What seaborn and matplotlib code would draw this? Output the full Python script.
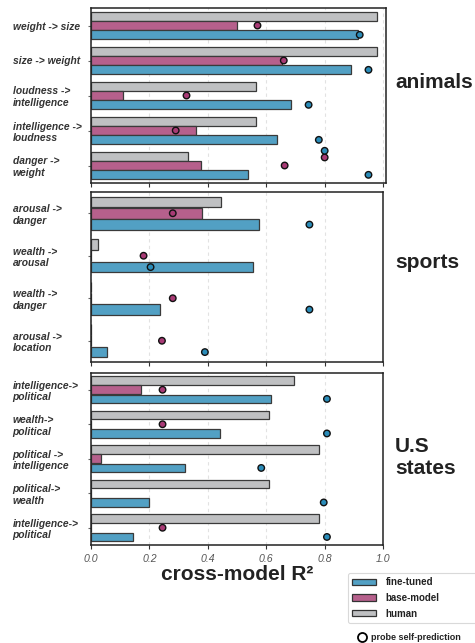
import numpy as np
import pandas as pd
import seaborn as sns
import matplotlib.pyplot as plt
from matplotlib.patches import Patch
from matplotlib.lines import Line2D

# ---- data ----
models = ["human", "base-model", "fine-tuned"]

animals_pairs = ["weight -> size", "size -> weight", "loudness ->\nintelligence",
                 "intelligence ->\nloudness", "danger ->\nweight"]
animals_human = [0.98, 0.98, 0.565, 0.565, 0.333]
animals_base = [0.50, 0.655, 0.108, 0.36, 0.375]
animals_fine = [0.915, 0.89, 0.685, 0.636, 0.536]
animals_base_dot = [0.57, 0.66, 0.327, 0.29, 0.663]
animals_fine_dot = [0.92, 0.95, 0.745, 0.78, 0.95]
# two stray probe points drawn just above the "danger -> weight" group
animals_extra_base_dot = [0.80]
animals_extra_fine_dot = [0.80]

sports_pairs = ["arousal ->\ndanger", "wealth ->\narousal", "wealth ->\ndanger",
                "arousal ->\nlocation"]
sports_human = [0.445, 0.023, 0.0, 0.0]
sports_base = [0.38, 0.0, 0.0, 0.0]
sports_fine = [0.575, 0.554, 0.238, 0.054]
sports_base_dot = [0.28, 0.18, 0.28, 0.243]
sports_fine_dot = [0.748, 0.204, 0.748, 0.39]

states_pairs = ["intelligence->\npolitical", "wealth->\npolitical",
                "political ->\nintelligence", "political->\nwealth",
                "intelligence->\npolitical"]
states_human = [0.695, 0.611, 0.782, 0.611, 0.782]
states_base = [0.172, 0.0, 0.033, 0.0, 0.0]
states_fine = [0.617, 0.442, 0.322, 0.199, 0.145]
states_base_dot = [0.245, 0.245, np.nan, np.nan, 0.245]
states_fine_dot = [0.808, 0.808, 0.583, 0.797, 0.808]

xticks = [0.0, 0.2, 0.4, 0.6, 0.8, 1.0]

bar_colors = {"human": "#bfc0c2", "base-model": "#b6608c", "fine-tuned": "#52a0c4"}
dot_colors = {"base-model": "#a83a75", "fine-tuned": "#2a8cb9"}

sns.set_style("ticks")
plt.rcParams["font.family"] = ["Liberation Sans", "DejaVu Sans"]

W, H = 475, 643
fig = plt.figure(figsize=(W / 100, H / 100), dpi=100)


def px_axes(left, top, right, bottom):
    return fig.add_axes([left / W, 1 - bottom / H, (right - left) / W, (bottom - top) / H])


def panel(ax, pairs, human, base, fine, base_dot, fine_dot, xmax, extra=None):
    n = len(pairs)
    rows = []
    for i in range(n):
        rows.append((i, "human", human[i]))
        rows.append((i, "base-model", base[i]))
        rows.append((i, "fine-tuned", fine[i]))
    bars = pd.DataFrame(rows, columns=["row", "model", "r2"])

    sns.barplot(data=bars, x="r2", y="row", hue="model", hue_order=models,
                palette=bar_colors, saturation=1, orient="h", width=0.8, gap=0.06,
                edgecolor="#3a3a3a", linewidth=0.9, errorbar=None,
                legend=False, ax=ax, zorder=2)

    # probe dots sit on the base-model (middle) and fine-tuned (lower) rows
    step = 0.8 / len(models)
    dots = []
    for i in range(n):
        dots.append(("base-model", base_dot[i], i))
        dots.append(("fine-tuned", fine_dot[i], i + step))
    if extra is not None:
        i = n - 1
        for v in extra[0]:
            dots.append(("base-model", v, i - 0.23))
        for v in extra[1]:
            dots.append(("fine-tuned", v, i - 0.42))
    dots = pd.DataFrame(dots, columns=["model", "r2", "ypos"]).dropna()
    sns.scatterplot(data=dots, x="r2", y="ypos", hue="model", palette=dot_colors,
                    s=22, edgecolor="#111111", linewidth=1.0, legend=False,
                    ax=ax, zorder=4)

    ax.set_ylim(n - 0.5, -0.5)
    ax.set_xlim(0, xmax)
    ax.set_xlabel("")
    ax.set_ylabel("")
    ax.set_yticks(range(n))
    ax.set_yticklabels(pairs, ha="left", fontsize=7.4, fontweight="bold",
                       fontstyle="italic", color="#333333")
    ax.tick_params(axis="y", length=2, pad=54.5, color="#666666")
    ax.set_xticks(xticks)
    ax.tick_params(axis="x", length=3, color="#333333", pad=3.5,
                   labelsize=7.6, labelcolor="#555555")
    ax.xaxis.grid(True, linestyle=(0, (3, 3)), color="#e2e2e2", linewidth=0.8)
    ax.set_axisbelow(True)
    for s in ax.spines.values():
        s.set_color("#222222")
        s.set_linewidth(1.1)


ax1 = px_axes(91, 8, 386, 183)
ax2 = px_axes(91, 192, 383, 362)
ax3 = px_axes(91, 372.5, 383, 545)

panel(ax1, animals_pairs, animals_human, animals_base, animals_fine,
      animals_base_dot, animals_fine_dot, 1.01,
      extra=(animals_extra_base_dot, animals_extra_fine_dot))
panel(ax2, sports_pairs, sports_human, sports_base, sports_fine,
      sports_base_dot, sports_fine_dot, 1.0)
panel(ax3, states_pairs, states_human, states_base, states_fine,
      states_base_dot, states_fine_dot, 1.0)

ax1.set_xticklabels([])
ax2.set_xticklabels([])
ax3.set_xticklabels([f"{t:.1f}" for t in xticks], fontstyle="italic")
ax3.set_xlabel("cross-model R²", fontsize=15, fontweight="bold", labelpad=1,
               color="#222222")

# group labels on the right
for txt, yc in [("animals", 83), ("sports", 262), ("U.S\nstates", 457)]:
    fig.text(395 / W, 1 - yc / H, txt, fontsize=15, fontweight="bold",
             color="#222222", ha="left", va="center")

# legend
handles = [Patch(facecolor=bar_colors[m], edgecolor="#333333", linewidth=0.9, label=m)
           for m in ["fine-tuned", "base-model", "human"]]
top = 1 - 573 / H
leg = fig.legend(handles=handles, loc="upper left",
                 bbox_to_anchor=(348 / W, 0.05, 140 / W, top - 0.05),
                 mode="expand", borderaxespad=0, borderpad=0.42,
                 prop=dict(weight="bold", size=7), handlelength=2.5,
                 handleheight=0.62, handletextpad=0.93, labelspacing=0.6,
                 frameon=True, edgecolor="#d0d0d0", fancybox=True)
leg.get_frame().set_linewidth(0.8)
for t in leg.get_texts():
    t.set_color("#222222")

fig.add_artist(Line2D([361.7 / W], [1 - 637 / H], marker="o", markerfacecolor="white",
                      markeredgecolor="black", markeredgewidth=1.3, markersize=6.5,
                      linestyle="", transform=fig.transFigure))
fig.text(371 / W, 1 - 637 / H, "probe self-prediction", fontsize=6.5,
         fontweight="bold", color="#222222", ha="left", va="center")

fig.savefig("out.png", dpi=100)
